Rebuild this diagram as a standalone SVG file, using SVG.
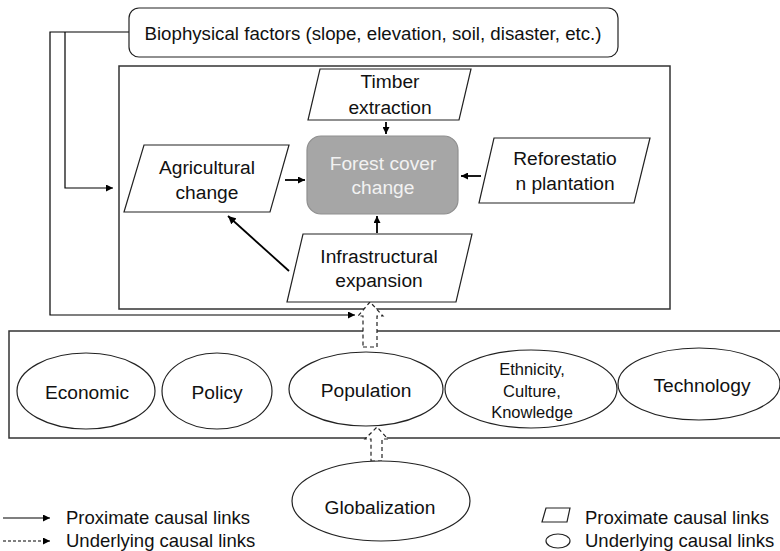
<svg xmlns="http://www.w3.org/2000/svg" width="780" height="551" viewBox="0 0 780 551">
<defs>
<marker id="ah" viewBox="0 0 10 10" refX="10" refY="5" markerWidth="7" markerHeight="7" markerUnits="userSpaceOnUse" orient="auto">
<path d="M0,0 L10,5 L0,10 z" fill="#000"/>
</marker>
<marker id="ah2" viewBox="0 0 10 10" refX="10" refY="5" markerWidth="8" markerHeight="8" markerUnits="userSpaceOnUse" orient="auto">
<path d="M0,0 L10,5 L0,10 z" fill="#000"/>
</marker>
</defs>
<style>
text{font-family:"Liberation Sans",Arial,sans-serif;font-size:19.2px;fill:#111;text-anchor:middle}
.shape{fill:#fff;stroke:#222;stroke-width:1.2}
.frame{fill:none;stroke:#333;stroke-width:1.5}
.link{fill:none;stroke:#000;stroke-width:1.2}
.link2{fill:none;stroke:#000;stroke-width:1.8}
.block{fill:#fff;stroke:#222;stroke-width:1.2;stroke-dasharray:4 3}
.leg{text-anchor:start;font-size:18.5px}
.small{font-size:16.5px}
</style>
<rect fill="#fff" x="0" y="0" width="780" height="551"/>

<g id="frames">
<rect class="frame" x="119" y="66" width="551" height="243"/>
<rect class="frame" x="9" y="331" width="790" height="107"/>
</g>

<g id="connectors">
<polyline class="link" points="129,32 50,32 50,315 355,315" marker-end="url(#ah)"/>
<polyline class="link" points="65,32 65,188 113,188" marker-end="url(#ah)"/>
<line class="link2" x1="386" y1="122" x2="386" y2="134" marker-end="url(#ah)"/>
<line class="link2" x1="285" y1="180" x2="305" y2="180" marker-end="url(#ah)"/>
<line class="link2" x1="481" y1="176" x2="461" y2="176" marker-end="url(#ah)"/>
<line class="link2" x1="377" y1="233" x2="377" y2="216" marker-end="url(#ah)"/>
<line class="link2" x1="289" y1="271" x2="228" y2="216" marker-end="url(#ah2)"/>
<polygon class="block" points="363,347 377,347 377,316 383,316 370,302 358,316 363,316"/>
<polygon class="block" points="371,461 382,461 382,439 388,439 377,427 365,439 371,439"/>
</g>

<g id="biophysical">
<rect class="shape" x="129" y="8" width="489" height="49" rx="10"/>
<text x="373" y="40" style="font-size:18.7px">Biophysical factors (slope, elevation, soil, disaster, etc.)</text>
</g>

<g id="timber">
<polygon class="shape" points="320,69 471,69 459,120 308,120"/>
<text x="390" y="88">Timber</text>
<text x="390" y="114">extraction</text>
</g>

<g id="forest">
<rect x="307" y="136" width="151" height="78" rx="14" fill="#a6a6a6" stroke="#8f8f8f" stroke-width="1.2"/>
<text x="383" y="170" style="fill:#f2f2f2">Forest cover</text>
<text x="383" y="194" style="fill:#f2f2f2">change</text>
</g>

<g id="agricultural">
<polygon class="shape" points="144,145 289,145 270,212 124,212"/>
<text x="207" y="174">Agricultural</text>
<text x="207" y="199">change</text>
</g>

<g id="reforestation">
<polygon class="shape" points="494,138 650,138 634,203 479,203"/>
<text x="565" y="165">Reforestatio</text>
<text x="565" y="190">n plantation</text>
</g>

<g id="infrastructural">
<polygon class="shape" points="303,234 472,234 456,302 287,302"/>
<text x="379" y="263">Infrastructural</text>
<text x="379" y="287">expansion</text>
</g>

<g id="economic">
<ellipse class="shape" cx="86" cy="391" rx="69" ry="38"/>
<text x="87" y="399">Economic</text>
</g>

<g id="policy">
<ellipse class="shape" cx="217" cy="391" rx="55" ry="38"/>
<text x="217" y="399">Policy</text>
</g>

<g id="population">
<ellipse class="shape" cx="366" cy="389" rx="77" ry="37"/>
<text x="366" y="397">Population</text>
</g>

<g id="ethnicity">
<ellipse class="shape" cx="531" cy="389" rx="86" ry="39"/>
<text class="small" x="532" y="375">Ethnicity,</text>
<text class="small" x="532" y="397">Culture,</text>
<text class="small" x="532" y="418">Knowledge</text>
</g>

<g id="technology">
<ellipse class="shape" cx="699" cy="384" rx="81" ry="36"/>
<text x="702" y="392">Technology</text>
</g>

<g id="globalization">
<ellipse class="shape" cx="381" cy="501" rx="89" ry="40"/>
<text x="380" y="514">Globalization</text>
</g>

<g id="legend">
<line class="link" x1="3" y1="518" x2="50" y2="518" marker-end="url(#ah)"/>
<line class="link" x1="3" y1="541" x2="50" y2="541" stroke-dasharray="3 2" marker-end="url(#ah)"/>
<text class="leg" x="66" y="524">Proximate causal links</text>
<text class="leg" x="66" y="547">Underlying causal links</text>
<polygon class="shape" points="546,508 570,508 567,522 542,522"/>
<ellipse class="shape" cx="558" cy="541" rx="12" ry="7"/>
<text class="leg" x="585" y="524">Proximate causal links</text>
<text class="leg" x="585" y="547">Underlying causal links</text>
</g>
</svg>
